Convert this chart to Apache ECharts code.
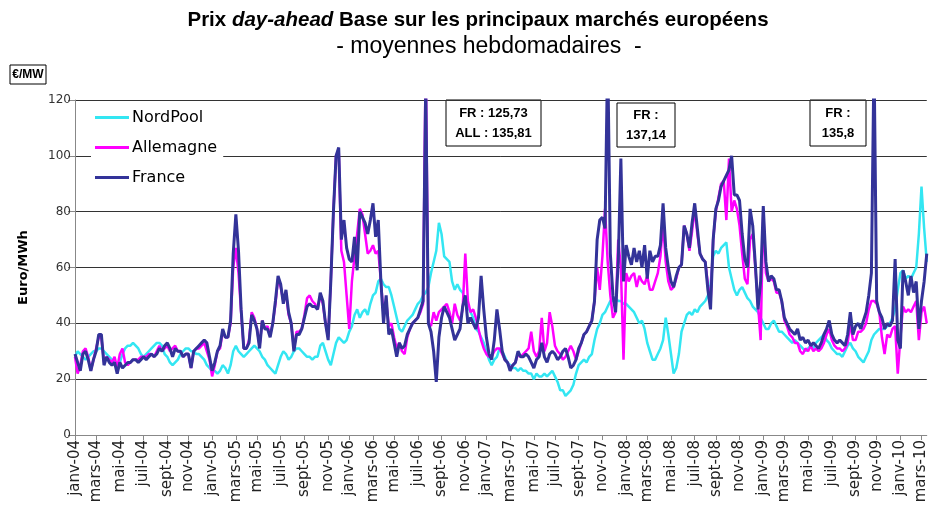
<!DOCTYPE html>
<html>
<head>
<meta charset="utf-8">
<title>Prix day-ahead Base</title>
<script src="https://cdn.jsdelivr.net/npm/echarts@6/dist/echarts.min.js"></script>
<style>
  html, body { margin: 0; padding: 0; background: #fff; }
  #main { width: 929px; height: 511px; }
</style>
</head>
<body>
<div id="main"></div>
<script>
// moyennes hebdomadaires, semaine 0 = 5 janv. 2004
var nordPool = [
  28,30,29,28,27,28,29,30,30,31, 31,30,29,28,27,26,25,26,29,31,
  32,32,33,32,31,29,28,29,30,31, 32,33,33,32,29,28,26,25,26,27,
  29,30,31,31,30,30,29,29,28,27, 25,24,23,23,22,23,25,24,22,25,
  30,32,30,29,28,29,30,31,32,31, 30,28,27,25,24,23,22,25,28,30,
  29,27,28,30,31,31,30,29,28,28, 27,28,28,32,33,30,27,25,29,33,
  35,34,33,34,37,39,43,45,42,44, 45,43,47,50,51,55,56,54,53,53,
  50,46,42,38,37,39,41,42,43,45, 47,48,50,51,53,58,62,66,76,72,
  64,63,62,55,52,54,52,51,48,46, 44,42,38,37,35,33,30,27,25,27,
  28,31,30,28,26,25,24,24,23,24, 23,23,22,22,20,22,21,21,22,21,
  22,23,21,19,16,16,14,15,16,18, 22,25,26,27,26,28,29,34,38,40,
  43,44,46,48,48,49,48,48,47,47, 46,45,44,42,40,41,38,33,30,27,
  27,29,31,34,42,36,29,22,24,29, 37,40,43,44,43,45,44,46,47,48,
  50,54,64,66,65,67,68,69,60,56, 52,50,52,53,51,49,48,46,45,44,
  42,40,38,38,40,41,39,37,37,36, 35,34,33,34,33,32,31,30,31,32,
  31,33,34,35,36,34,33,31,30,29, 29,28,30,32,33,31,30,28,27,26,
  28,30,34,36,37,38,38,38,39,40, 42,45,52,58,59,56,57,56,58,60,
  72,89,74,62
];
var allemagne = [
  28,22,25,30,31,28,23,27,31,35, 35,26,28,27,26,28,24,29,31,26,
  25,26,27,27,27,28,28,28,29,29, 28,30,32,30,31,32,30,31,32,30,
  30,28,29,29,24,30,31,31,32,33, 30,27,21,25,30,31,37,35,35,40,
  60,67,58,44,31,31,34,44,42,38, 32,41,38,39,36,40,47,56,53,48,
  51,43,40,31,37,37,38,43,49,50, 48,47,45,50,47,40,35,55,80,100,
  102,66,62,50,38,55,64,72,81,79, 72,65,66,68,65,66,55,43,48,39,
  40,35,31,33,30,29,35,38,40,41, 42,44,47,135.81,40,39,44,41,44,45,
  46,47,44,40,47,43,41,45,65,48, 44,45,42,38,34,31,29,28,28,30,
  31,31,29,27,26,24,25,26,29,28, 29,30,31,37,30,28,30,42,30,33,
  44,39,32,30,29,27,28,30,32,30, 27,30,33,36,37,39,41,48,60,52,
  64,81,62,50,42,44,70,60,27,58, 55,57,58,53,57,55,54,57,52,52,
  55,58,64,76,62,55,52,53,56,60, 61,75,72,66,73,81,72,65,63,62,
  54,47,70,80,85,90,91,77,99,80, 84,81,75,65,56,54,70,72,60,47,
  34,80,58,55,56,55,51,51,48,41, 39,36,35,33,33,30,29,31,30,32,
  30,31,30,31,33,36,38,34,32,31, 31,30,31,33,40,34,34,37,37,38,
  40,45,48,48,47,44,35,29,36,35, 38,39,22,35,46,44,45,44,46,48,
  34,44,46,40
];
var france = [
  29,26,23,29,30,27,23,27,30,36, 36,25,28,26,25,26,22,26,24,25,
  26,26,27,27,26,27,28,27,28,29, 28,29,31,30,32,33,31,28,31,30,
  30,28,29,29,24,30,31,32,33,34, 33,28,23,26,30,32,38,35,35,41,
  65,79,66,45,31,31,33,43,41,38, 31,41,38,38,35,40,48,57,54,47,
  52,44,40,30,36,36,38,42,46,47, 46,46,45,51,48,40,34,55,80,100,
  103,70,77,67,63,62,71,59,80,78, 76,72,77,83,71,77,55,40,50,36,
  38,33,28,33,31,32,36,38,40,41, 42,45,48,125.73,40,37,30,19,35,42,
  46,44,42,38,34,36,38,46,50,40, 42,40,38,42,57,45,35,29,27,34,
  45,38,30,27,26,23,25,26,30,28, 28,29,28,26,24,27,28,33,28,26,
  29,30,29,27,28,30,31,28,24,25, 27,31,33,36,37,39,41,48,70,77,
  78,74,137.14,65,50,44,62,99,55,68, 64,61,67,62,66,60,68,56,66,62,
  64,64,68,83,67,60,55,53,57,60, 61,75,72,67,76,83,74,65,63,62,
  52,45,70,81,84,89,91,93,95,100, 86,86,84,72,63,60,81,75,61,45,
  55,82,62,55,57,56,52,52,48,42, 40,38,37,36,38,34,35,33,34,32,
  33,32,31,33,36,38,41,36,34,33, 34,33,32,36,44,36,39,40,38,41,
  44,50,58,135.8,48,44,42,38,40,39, 41,63,34,31,59,55,50,57,51,55,
  38,48,55,65
];

var moisLabels = ['janv', 'févr', 'mars', 'avr', 'mai', 'juin', 'juil', 'août', 'sept', 'oct', 'nov', 'déc'];
var yTicks = [0, 20, 40, 60, 80, 100, 120];
var pics = [
  ['FR : 125,73', 'ALL : 135,81'],
  ['FR :', '137,14'],
  ['FR :', '135,8']
];

// une catégorie par semaine (lundi)
var semaines = [];
for (var i = 0; i < france.length; i++) {
  var d = new Date(Date.UTC(2004, 0, 5 + 7 * i));
  semaines.push(d.getUTCFullYear() + '-' + d.getUTCMonth() + '-' + d.getUTCDate());
}
function moisDe(s) { return +s.split('-')[1]; }
function debutMoisPair(idx) {
  var m = moisDe(semaines[idx]);
  var prev = idx > 0 ? moisDe(semaines[idx - 1]) : -1;
  return m !== prev && m % 2 === 0;
}

var myChart = echarts.init(document.getElementById('main'));

function boite(x, y, w, h, lignes) {
  return {
    type: 'group',
    x: x, y: y,
    children: [
      { type: 'rect', shape: { x: 0, y: 0, width: w, height: h },
        style: { fill: '#fff', stroke: '#000', lineWidth: 1 } },
      { type: 'text', x: w / 2, y: h / 2,
        style: { text: lignes.join('\n'), align: 'center', verticalAlign: 'middle',
                 font: 'bold 13px "Liberation Sans", Arial, sans-serif', fill: '#000', lineHeight: 20 } }
    ]
  };
}

var option = {
  animation: false,
  backgroundColor: '#fff',
  grid: { left: 75, right: 1, top: 100, bottom: 76, containLabel: false },
  legend: {
    data: ['NordPool', 'Allemagne', 'France'],
    orient: 'vertical',
    left: 91, top: 104,
    backgroundColor: '#fff',
    padding: [4, 6, 6, 4],
    itemGap: 11,
    icon: 'rect',
    itemWidth: 34, itemHeight: 3,
    textStyle: { fontFamily: 'DejaVu Sans', fontSize: 16, color: '#000', lineHeight: 19, padding: [0, 0, 0, -2] }
  },
  xAxis: {
    type: 'category',
    data: semaines,
    boundaryGap: false,
    axisLine: { lineStyle: { color: '#888' } },
    axisTick: { interval: debutMoisPair, length: 5, lineStyle: { color: '#888' } },
    axisLabel: {
      interval: debutMoisPair,
      rotate: 90,
      margin: 5,
      fontFamily: 'DejaVu Sans',
      fontSize: 15,
      color: '#222',
      formatter: function (v) {
        var p = v.split('-');
        return moisLabels[+p[1]] + '-' + p[0].slice(2);
      }
    },
    splitLine: { show: false }
  },
  yAxis: {
    type: 'value',
    min: yTicks[0], max: yTicks[yTicks.length - 1], interval: 20,
    name: 'Euro/MWh',
    nameLocation: 'middle',
    nameRotate: 90,
    nameGap: 45,
    nameTextStyle: { fontFamily: 'DejaVu Sans', fontWeight: 'bold', fontSize: 13, color: '#000' },
    axisLine: { show: true, lineStyle: { color: '#888' } },
    axisTick: { show: true, length: 7, lineStyle: { color: '#888' } },
    axisLabel: { fontFamily: 'DejaVu Sans', fontSize: 12, color: '#333', margin: 4 },
    splitLine: { lineStyle: { color: '#333', width: 1 } }
  },
  series: [
    { name: 'NordPool', type: 'line', data: nordPool, showSymbol: false, symbol: 'none',
      color: '#33e6f2', lineStyle: { color: '#33e6f2', width: 2.5 } },
    { name: 'Allemagne', type: 'line', data: allemagne, showSymbol: false, symbol: 'none',
      color: '#ff00ff', lineStyle: { color: '#ff00ff', width: 2.5 } },
    { name: 'France', type: 'line', data: france, showSymbol: false, symbol: 'none',
      color: '#333399', lineStyle: { color: '#333399', width: 3 } }
  ],
  graphic: [
    { type: 'text', x: 478, y: 20,
      style: {
        text: '{a|Prix }{b|day-ahead}{a| Base sur les principaux marchés européens}',
        align: 'center', verticalAlign: 'middle',
        rich: {
          a: { fontFamily: '"Liberation Sans Narrow", "Arial Narrow", "Liberation Sans", sans-serif', fontWeight: 'bold', fontSize: 20.5, fill: '#000' },
          b: { fontFamily: '"Liberation Sans Narrow", "Arial Narrow", "Liberation Sans", sans-serif', fontWeight: 'bold', fontStyle: 'italic', fontSize: 20.5, fill: '#000' }
        }
      } },
    { type: 'text', x: 489, y: 47,
      style: { text: '- moyennes hebdomadaires  -', align: 'center', verticalAlign: 'middle',
               font: '23px "Liberation Sans", Arial, sans-serif', fill: '#000' } },
    { type: 'group', x: 10, y: 65, children: [
      { type: 'rect', shape: { x: 0, y: 0, width: 36, height: 19 },
        style: { fill: '#fff', stroke: '#000', lineWidth: 1 } },
      { type: 'text', x: 18, y: 10,
        style: { text: '€/MW', align: 'center', verticalAlign: 'middle',
                 font: 'bold 12px "Liberation Sans Narrow", "Arial Narrow", sans-serif', fill: '#000' } }
    ] },
    boite(446, 100, 95, 46, pics[0]),
    boite(617, 103, 58, 44, pics[1]),
    boite(810, 100, 56, 46, pics[2])
  ]
};

myChart.setOption(option);
</script>
</body>
</html>
